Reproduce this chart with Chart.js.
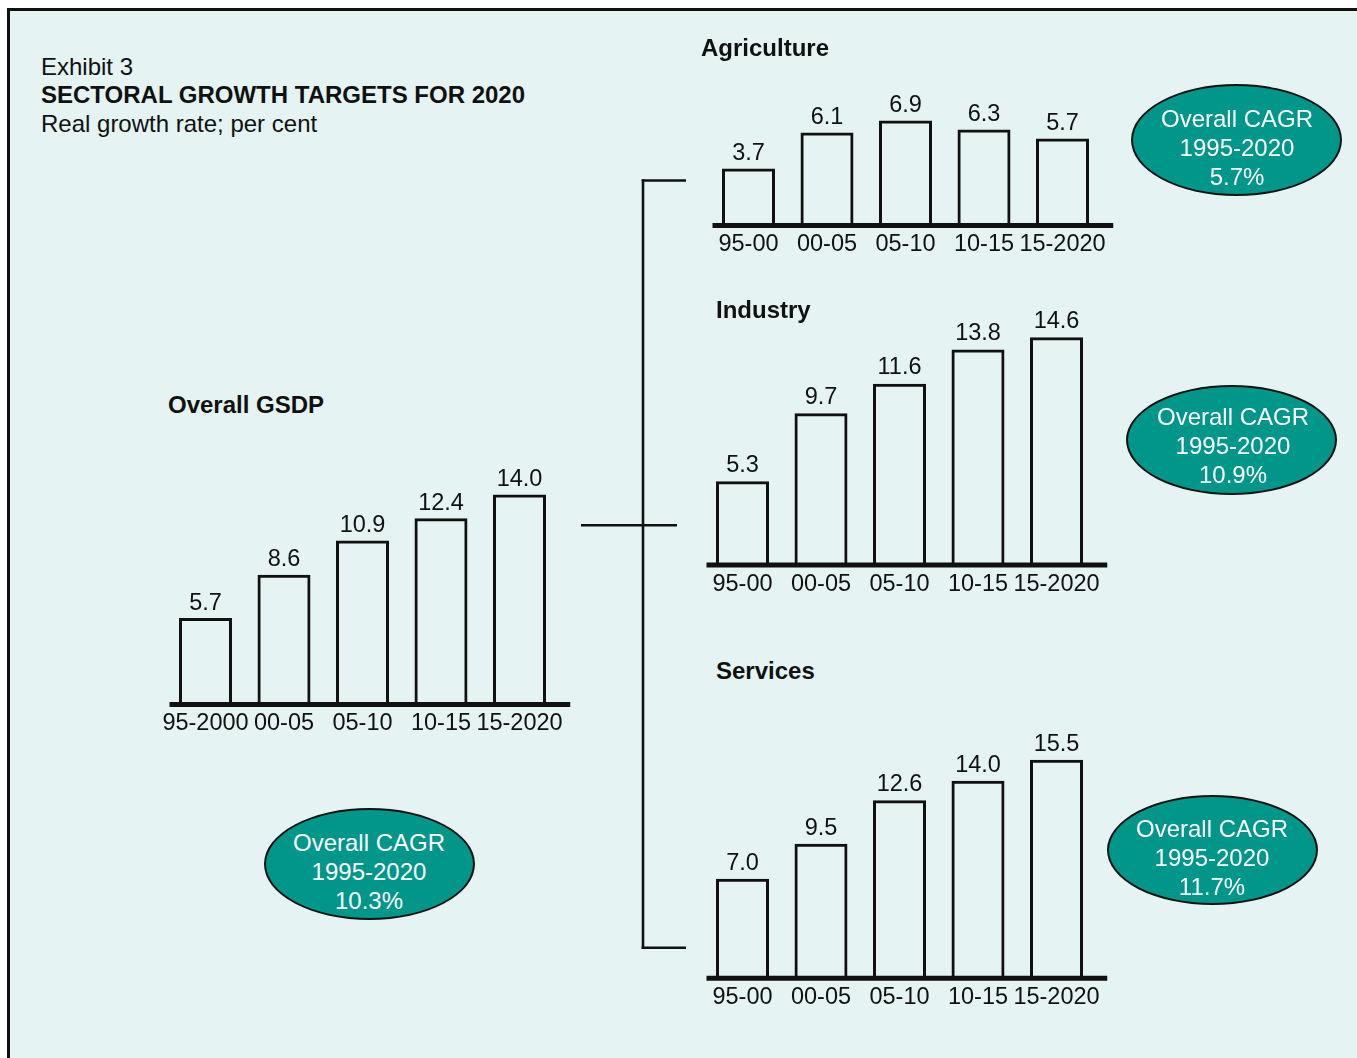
<!DOCTYPE html>
<html>
<head>
<meta charset="utf-8">
<title>Sectoral growth targets for 2020</title>
<script src="https://cdn.jsdelivr.net/npm/chart.js@4.4.1/dist/chart.umd.min.js"></script>
<style>
html, body { margin: 0; padding: 0; background: #fff; }
body { width: 1357px; height: 1058px; position: relative; overflow: hidden;
       font-family: "Liberation Sans", Arial, sans-serif; color: #111; }
#frame { position: absolute; left: 7px; top: 8px; width: 1400px; height: 1100px;
         border-left: 3px solid #111; border-top: 3px solid #111; background: #e5f3f2; }
.txt { position: absolute; font-size: 24px; line-height: 28px; white-space: nowrap; }
.b { font-weight: bold; }
.oval { position: absolute; box-sizing: border-box; border: 2px solid #111;
        border-radius: 50%; background: #00968a; }
.ovalText { position: absolute; width: 300px; text-align: center; color: #fff;
            font-size: 24px; line-height: 29px; white-space: nowrap; }
canvas { position: absolute; }
svg { position: absolute; left: 0; top: 0; }
</style>
</head>
<body>
<div id="frame"></div>
<svg width="1357" height="1058">
  <g stroke="#111" stroke-width="2.6" fill="none">
    <line x1="643" y1="179.3" x2="643" y2="949"/>
    <line x1="641.7" y1="180.5" x2="686" y2="180.5"/>
    <line x1="581" y1="525.3" x2="677" y2="525.3"/>
    <line x1="641.7" y1="947.8" x2="686" y2="947.8"/>
  </g>
</svg>
<script>
const FONT = '"Liberation Sans", Arial, sans-serif';

// growth rates, per cent
const gsdpPeriods = ['95-2000', '00-05', '05-10', '10-15', '15-2020'];
const sectorPeriods = ['95-00', '00-05', '05-10', '10-15', '15-2020'];
const gsdp = [5.7, 8.6, 10.9, 12.4, 14.0];
const agriculture = [3.7, 6.1, 6.9, 6.3, 5.7];
const industry = [5.3, 9.7, 11.6, 13.8, 14.6];
const services = [7.0, 9.5, 12.6, 14.0, 15.5];

const panelNames = ['Overall GSDP', 'Agriculture', 'Industry', 'Services'];
const cagr = [10.3, 5.7, 10.9, 11.7];

// where each panel sits on the page
const panels = [
  { labels: gsdpPeriods, values: gsdp, left: 166.25, bottom: 703, ppu: 14.9, gap: 8.5,
    title: [168, 405], oval: [264, 808, 211, 112], ovalText: [369, 871] },
  { labels: sectorPeriods, values: agriculture, left: 709.25, bottom: 224, ppu: 15.0, gap: 9,
    title: [701, 48], oval: [1131, 84, 211, 112], ovalText: [1237, 147] },
  { labels: sectorPeriods, values: industry, left: 703.25, bottom: 563.5, ppu: 15.5, gap: 9.5,
    title: [716, 310], oval: [1126, 385, 211, 110], ovalText: [1233, 445] },
  { labels: sectorPeriods, values: services, left: 703.25, bottom: 976.7, ppu: 14.0, gap: 9,
    title: [716, 671], oval: [1107, 795, 211, 110], ovalText: [1212, 857] }
];

function addText(str, x, y, bold) {
  const d = document.createElement('div');
  d.className = 'txt' + (bold ? ' b' : '');
  d.textContent = str;
  d.style.left = x + 'px';
  d.style.top = (y - 13.7) + 'px';
  document.body.appendChild(d);
}

addText('Exhibit 3', 41, 67, false);
addText('SECTORAL GROWTH TARGETS FOR 2020', 41, 95, true);
addText('Real growth rate; per cent', 41, 124, false);

// value labels above bars plus the heavy baseline
const barValues = {
  id: 'barValues',
  afterDatasetsDraw(chart, args, opts) {
    const ctx = chart.ctx;
    const meta = chart.getDatasetMeta(0);
    const vals = chart.data.datasets[0].data;
    ctx.save();
    ctx.font = '23.5px ' + FONT;
    ctx.fillStyle = '#111';
    ctx.textAlign = 'center';
    ctx.textBaseline = 'alphabetic';
    meta.data.forEach((bar, i) => {
      ctx.fillText(vals[i].toFixed(1), bar.x, bar.y - opts.gap);
    });
    const a = chart.chartArea;
    const y0 = chart.scales.y.getPixelForValue(0) + 1.5;
    ctx.strokeStyle = '#111';
    ctx.lineWidth = 5;
    ctx.beginPath();
    ctx.moveTo(a.left + 3.25, y0);
    ctx.lineTo(a.right + 11.5, y0);
    ctx.stroke();
    ctx.restore();
  }
};

const plotW = 392.5, axisH = 45, yMax = 16, padT = 40;

panels.forEach((p, k) => {
  const areaTop = p.bottom - yMax * p.ppu;
  const cl = Math.floor(p.left - 20);
  const ct = Math.floor(areaTop - padT);
  const cw = Math.ceil(p.left + plotW + 20 - cl);
  const ch = Math.ceil(p.bottom + axisH + 4 - ct);
  const canvas = document.createElement('canvas');
  canvas.width = cw;
  canvas.height = ch;
  canvas.style.left = cl + 'px';
  canvas.style.top = ct + 'px';
  canvas.style.width = cw + 'px';
  canvas.style.height = ch + 'px';
  document.body.appendChild(canvas);

  const padL = p.left - cl;
  new Chart(canvas.getContext('2d'), {
    type: 'bar',
    data: {
      labels: p.labels,
      datasets: [{
        data: p.values,
        backgroundColor: 'transparent',
        borderColor: '#111',
        borderWidth: 3,
        categoryPercentage: 1,
        barPercentage: 53 / 78.5
      }]
    },
    options: {
      responsive: false,
      animation: false,
      events: [],
      layout: {
        padding: {
          left: padL,
          right: cw - padL - plotW,
          top: areaTop - ct,
          bottom: ch - (p.bottom - ct) - axisH
        }
      },
      plugins: {
        legend: { display: false },
        tooltip: { enabled: false },
        barValues: { gap: p.gap }
      },
      scales: {
        x: {
          offset: true,
          grid: { display: false, drawTicks: false },
          border: { display: false },
          ticks: { color: '#111', font: { family: FONT, size: 23.5 }, padding: 6.5,
                   maxRotation: 0, autoSkip: false },
          afterFit(scale) { scale.height = axisH; }
        },
        y: { display: false, min: 0, max: yMax }
      }
    },
    plugins: [barValues]
  });

  addText(panelNames[k], p.title[0], p.title[1], true);

  const o = document.createElement('div');
  o.className = 'oval';
  o.style.left = p.oval[0] + 'px';
  o.style.top = p.oval[1] + 'px';
  o.style.width = p.oval[2] + 'px';
  o.style.height = p.oval[3] + 'px';
  document.body.appendChild(o);

  const t = document.createElement('div');
  t.className = 'ovalText';
  t.innerHTML = 'Overall CAGR<br>1995-2020<br>' + cagr[k].toFixed(1) + '%';
  t.style.left = (p.ovalText[0] - 150) + 'px';
  t.style.top = (p.ovalText[1] - 43.2) + 'px';
  document.body.appendChild(t);
});
</script>
</body>
</html>
